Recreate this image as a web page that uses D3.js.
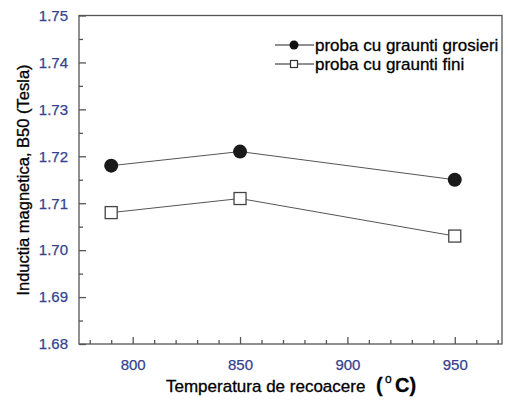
<!DOCTYPE html>
<html>
<head>
<meta charset="utf-8">
<script src="https://cdn.jsdelivr.net/npm/d3@7"></script>
<style>
body { margin: 0; background: #fff; }
text { font-family: Arial, "Liberation Sans", sans-serif; }
</style>
</head>
<body>
<svg id="chart" width="508" height="400"></svg>
<script>
var temps = [790, 850, 950];
var coarse = [1.718, 1.721, 1.715];
var fine = [1.708, 1.711, 1.703];
var xTicks = [800, 850, 900, 950];
var yTicks = [1.68, 1.69, 1.70, 1.71, 1.72, 1.73, 1.74, 1.75];
var seriesNames = ["proba cu graunti grosieri", "proba cu graunti fini"];

var pLeft = 79, pRight = 502, pTop = 15.5, pBottom = 344;
var svg = d3.select("#chart");

var x = d3.scaleLinear().domain([775, 972]).range([pLeft, pRight]);
var y = d3.scaleLinear().domain([1.68, 1.75]).range([pBottom, pTop]);

var frame = "#555";
var tickColor = "#34428f";

// frame
svg.append("rect")
  .attr("x", pLeft).attr("y", pTop)
  .attr("width", pRight - pLeft).attr("height", pBottom - pTop)
  .style("fill", "none").style("stroke", frame).style("stroke-width", 1.3);

// axes, ticks pointing inward
svg.append("g").attr("transform", "translate(0," + pBottom + ")")
  .call(d3.axisBottom(x).tickValues(xTicks).tickSize(-7).tickPadding(15).tickFormat(d3.format("d")));
svg.append("g").attr("transform", "translate(0," + pBottom + ")")
  .call(d3.axisBottom(x).tickValues(d3.range(780, 972, 10).filter(function(d){ return d % 50 != 0; })).tickSize(-4).tickFormat(""));

svg.append("g").attr("transform", "translate(" + pLeft + ",0)")
  .call(d3.axisLeft(y).tickValues(yTicks).tickSize(-7).tickPadding(11).tickFormat(d3.format(".2f")));
svg.append("g").attr("transform", "translate(" + pLeft + ",0)")
  .call(d3.axisLeft(y).tickValues(d3.range(1.685, 1.75, 0.01)).tickSize(-4).tickFormat(""));

svg.selectAll(".domain").remove();
svg.selectAll(".tick line").style("stroke", frame).style("stroke-width", 1.3);
svg.selectAll(".tick text").style("fill", tickColor).style("font-size", "15px")
  .style("stroke", tickColor).style("stroke-width", 0.25);

// lines
var line = d3.line().x(function(d, i){ return x(temps[i]); }).y(function(d){ return y(d); });
[coarse, fine].forEach(function(s){
  svg.append("path").attr("d", line(s))
    .style("fill", "none").style("stroke", "#555").style("stroke-width", 1);
});

// markers
svg.selectAll(".dot").data(coarse).enter().append("circle")
  .attr("cx", function(d, i){ return x(temps[i]); })
  .attr("cy", function(d){ return y(d); })
  .attr("r", 7).style("fill", "#1a1a1a");
svg.selectAll(".sq").data(fine).enter().append("rect")
  .attr("x", function(d, i){ return x(temps[i]) - 6; })
  .attr("y", function(d){ return y(d) - 6; })
  .attr("width", 12).attr("height", 12)
  .style("fill", "#fff").style("stroke", "#444").style("stroke-width", 1.3);

// legend
var lg = svg.append("g");
seriesNames.forEach(function(name, i){
  var ly = 45 + i * 19;
  lg.append("line").attr("x1", 275).attr("x2", 314).attr("y1", ly).attr("y2", ly)
    .style("stroke", "#222").style("stroke-width", 1.2);
  if (i == 0) {
    lg.append("circle").attr("cx", 294).attr("cy", ly).attr("r", 4.5).style("fill", "#111");
  } else {
    lg.append("rect").attr("x", 290.5).attr("y", ly - 3.5).attr("width", 7).attr("height", 7)
      .style("fill", "#fff").style("stroke", "#333").style("stroke-width", 1.2);
  }
  lg.append("text").attr("x", 315).attr("y", ly + 5.5)
    .style("font-size", "17px").style("fill", "#000")
    .style("stroke", "#000").style("stroke-width", 0.3).text(name);
});

// axis titles
svg.append("text").attr("transform", "translate(29,180) rotate(-90)")
  .attr("text-anchor", "middle").style("font-size", "16.5px").style("fill", "#000")
  .style("stroke", "#000").style("stroke-width", 0.3)
  .text("Inductia magnetica, B50 (Tesla)");

var xt = svg.append("text").attr("x", 166).attr("y", 392).style("fill", "#000")
  .style("stroke", "#000").style("stroke-width", 0.3);
xt.append("tspan").style("font-size", "17px").text("Temperatura de recoacere");
xt.append("tspan").attr("x", 376).style("font-size", "20px").style("font-weight", "bold").text("(");
xt.append("tspan").attr("x", 385).style("font-size", "12px").attr("dy", -9).text("o");
xt.append("tspan").attr("x", 395).style("font-size", "20px").style("font-weight", "bold").attr("dy", 9).text("C)");
</script>
</body>
</html>
